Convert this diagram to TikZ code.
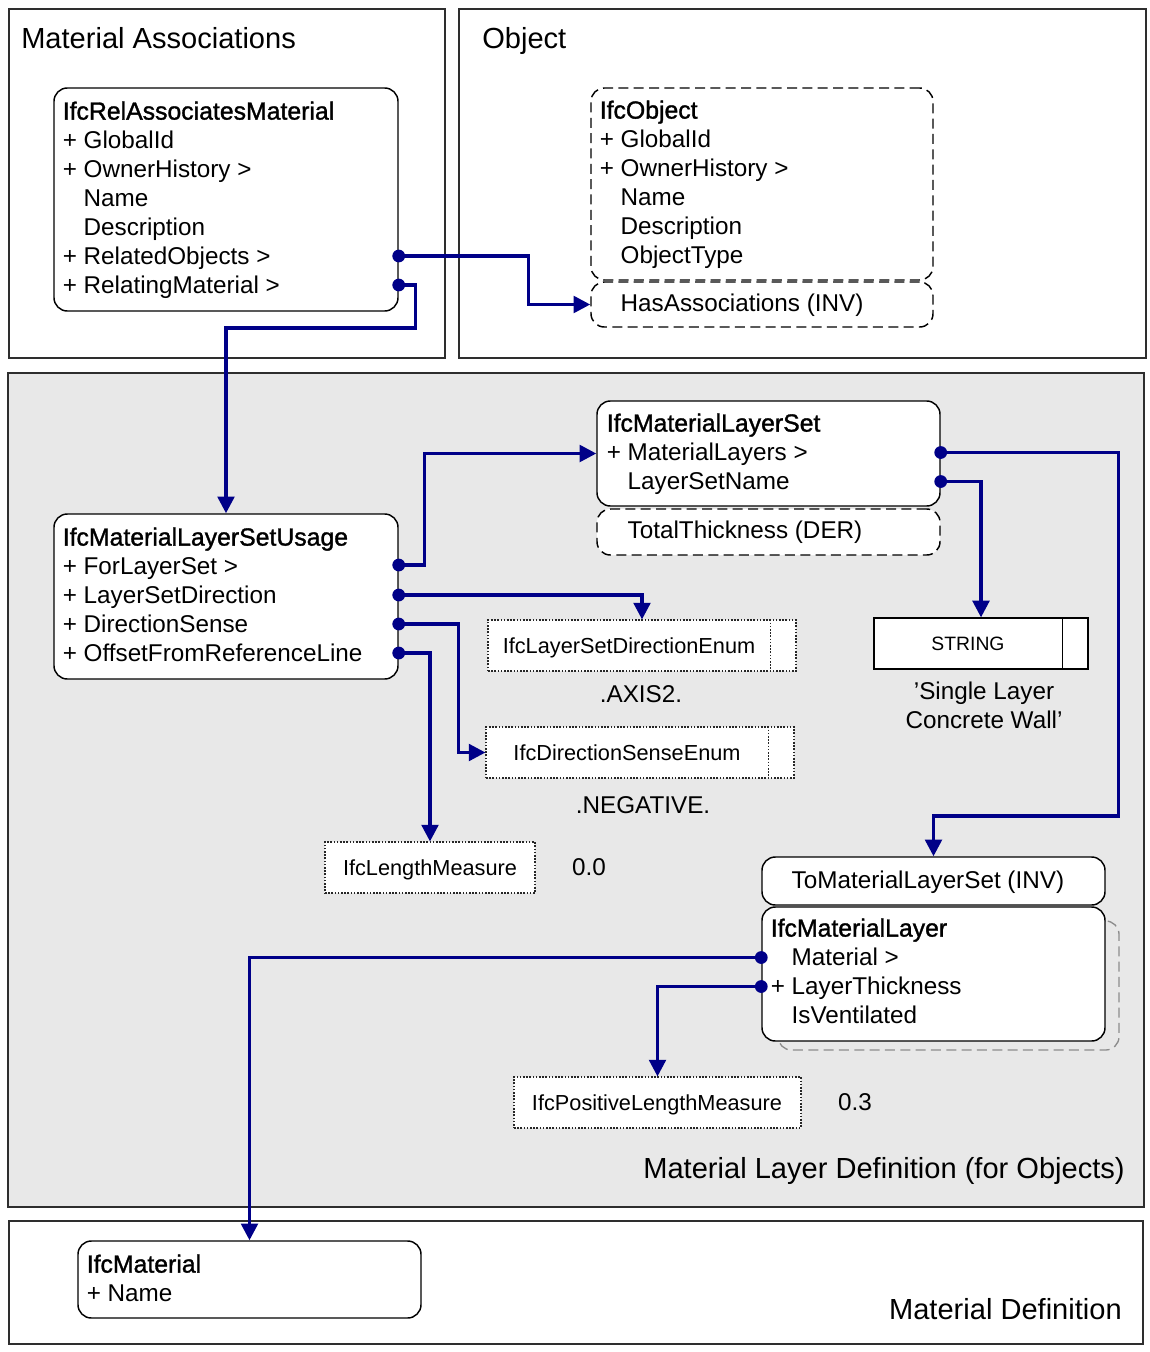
\documentclass[tikz,border=0pt]{standalone}
\usepackage{fontspec}
\setmainfont{Liberation Sans}
\newfontfamily\hdfontx{Liberation Sans}[FakeBold=1.3]
\newcommand\hdfont{\fontsize{18.6}{21.75}\selectfont\hdfontx}
\usetikzlibrary{arrows.meta,fit}
\definecolor{navyc}{HTML}{000088}
\definecolor{panelgray}{HTML}{E8E8E8}
\definecolor{framec}{HTML}{2E2E2E}
\newcommand\ind{\phantom{+}\ }
\newcommand\mainsz{\fontsize{18.2}{21.75}\selectfont}
\newcommand\smallsz{\fontsize{16.3}{19}\selectfont}
\newcommand\strsz{\fontsize{14.5}{17}\selectfont}
\newcommand\titlesz{\fontsize{21.8}{26}\selectfont}
\newcommand\lines[1]{\begin{tabular}[t]{@{}l@{}}#1\end{tabular}}
\renewcommand\arraystretch{1}
\begin{document}
\begin{tikzpicture}[x=0.75pt,y=-0.75pt,
  frame/.style={draw=framec, line width=1.5pt, inner sep=0pt},
  box/.style={draw=black, line width=1.1pt, rounded corners=10pt, fill=white, inner sep=0pt},
  dbox/.style={box, dash pattern=on 7.5pt off 4pt},
  tbox/.style={draw=black!85, line width=0.8pt, dash pattern=on 1.2pt off 1.2pt, fill=white, inner sep=0pt},
  sbox/.style={draw=black, line width=0.9pt, fill=white, inner sep=0pt},
  tdiv/.style={draw=black!85, line width=0.8pt, dash pattern=on 1.2pt off 1.2pt},
  conn/.style={draw=navyc, line width=2.5pt, -{Triangle[length=12.5pt,width=12.5pt]}},
  txt/.style={anchor=base west, inner sep=0pt, font=\mainsz},
  ttl/.style={inner sep=0pt, font=\titlesz},
  val/.style={anchor=base, inner sep=0pt, font=\mainsz},
  tyt/.style={anchor=base, inner sep=0pt, font=\smallsz},
]
\useasboundingbox (0,0) rectangle (1149,1352);
\fill[white] (0,0) rectangle (1149,1352);

% frames
\node[frame, fill=white, fit={(9,9) (445,358)}] (fassoc) {};
\node[frame, fill=white, fit={(459,9) (1146,358)}] (fobj) {};
\node[frame, fill=panelgray, fit={(8,373) (1144,1207)}] (fmld) {};
\node[frame, fill=white, fit={(9,1221) (1143,1344)}] (fmd) {};

\node[ttl, anchor=base west] (t-assoc) at (21,48.4) {Material Associations};
\node[ttl, anchor=base west] (t-obj) at (482,48.4) {Object};
\node[ttl, anchor=base east] (t-mld) at (1125,1178) {Material Layer Definition (for Objects)};
\node[ttl, anchor=base east] (t-md) at (1122,1319) {Material Definition};

% IfcRelAssociatesMaterial
\node[box, fit={(54,88) (398,311)}] (rel) {};
\node[txt] (rel-t) at (62.5,119.6) {\lines{{\hdfont IfcRelAssociatesMaterial}\\+ GlobalId\\+ OwnerHistory >\\\ind Name\\\ind Description\\+ RelatedObjects >\\+ RelatingMaterial >}};

% IfcObject
\node[dbox, fit={(591,88) (933,280)}] (obj) {};
\node[txt] (obj-t) at (599.5,118.6) {\lines{{\hdfont IfcObject}\\+ GlobalId\\+ OwnerHistory >\\\ind Name\\\ind Description\\\ind ObjectType}};
\node[dbox, fit={(591,282) (933,327)}] (has) {};
\node[txt] (has-t) at (599.5,311.6) {\ind HasAssociations (INV)};

% IfcMaterialLayerSet
\node[box, fit={(597,401) (940,506)}] (mls) {};
\node[txt] (mls-t) at (606.5,431.6) {\lines{{\hdfont IfcMaterialLayerSet}\\+ MaterialLayers >\\\ind LayerSetName}};
\node[dbox, fit={(597,509) (940,555)}] (tot) {};
\node[txt] (tot-t) at (606.5,538.6) {\ind TotalThickness (DER)};

% IfcMaterialLayerSetUsage
\node[box, fit={(54,514) (398,679)}] (usage) {};
\node[txt] (usage-t) at (62.5,545.6) {\lines{{\hdfont IfcMaterialLayerSetUsage}\\+ ForLayerSet >\\+ LayerSetDirection\\+ DirectionSense\\+ OffsetFromReferenceLine}};

% type boxes
\node[tbox, fit={(488,620) (796,671)}] (lsd) {};
\draw[tdiv] ([xshift=-19.5pt]lsd.north east) -- ([xshift=-19.5pt]lsd.south east);
\node[tyt] (lsd-t) at (629,653) {IfcLayerSetDirectionEnum};
\node[val] (v-axis) at (641,702.6) {.AXIS2.};

\node[tbox, fit={(486,727) (794,778)}] (dse) {};
\draw[tdiv] ([xshift=-19.5pt]dse.north east) -- ([xshift=-19.5pt]dse.south east);
\node[tyt] (dse-t) at (627,760) {IfcDirectionSenseEnum};
\node[val] (v-neg) at (643,813.6) {.NEGATIVE.};

\node[tbox, fit={(325,842) (535,893)}] (lm) {};
\node[tyt] (lm-t) at (430,875) {IfcLengthMeasure};
\node[val] (v-00) at (589,875.6) {0.0};

\node[sbox, fit={(874,618) (1088,669)}] (str) {};
\draw[black, line width=0.9pt] ([xshift=-19.5pt]str.north east) -- ([xshift=-19.5pt]str.south east);
\node[anchor=base, inner sep=0pt, font=\strsz] (str-t) at (968,650) {STRING};
\node[val] (v-str) at (984,699.6) {\begin{tabular}[t]{@{}c@{}}’Single Layer\\Concrete Wall’\end{tabular}};

% IfcMaterialLayer
\node[box, fit={(762,857) (1105,905)}] (tomls) {};
\node[txt] (tomls-t) at (770.5,888.6) {\ind ToMaterialLayerSet (INV)};
\node[draw=black!45, line width=1pt, rounded corners=10pt, dash pattern=on 7.5pt off 4pt, inner sep=0pt, fit={(778,921) (1119,1050)}] (mlsh) {};
\node[box, fit={(762,907) (1105,1041)}] (ml) {};
\node[txt] (ml-t) at (770.5,936.6) {\lines{{\hdfont IfcMaterialLayer}\\\ind Material >\\+ LayerThickness\\\ind IsVentilated}};

\node[tbox, fit={(514,1077) (801,1128)}] (plm) {};
\node[tyt] (plm-t) at (657,1110) {IfcPositiveLengthMeasure};
\node[val] (v-03) at (855,1110.6) {0.3};

% IfcMaterial
\node[box, fit={(78,1241) (421,1318)}] (mat) {};
\node[txt] (mat-t) at (86.5,1272.6) {\lines{{\hdfont IfcMaterial}\\+ Name}};

% ports
\coordinate (rel-ro) at (rel.east |- 0,256);
\coordinate (rel-rm) at (rel.east |- 0,285);
\coordinate (us-fls) at (usage.east |- 0,565);
\coordinate (us-lsd) at (usage.east |- 0,595);
\coordinate (us-ds) at (usage.east |- 0,624);
\coordinate (us-off) at (usage.east |- 0,653);
\coordinate (mls-ml) at (mls.east |- 0,452.5);
\coordinate (mls-lsn) at (mls.east |- 0,481.5);
\coordinate (ml-mat) at (ml.west |- 0,957.5);
\coordinate (ml-lt) at (ml.west |- 0,986.5);

% connectors
\draw[conn] (rel-ro) -- ++(130,0) |- (has.west);
\draw[conn] (rel-rm) -- ++(17,0) -- ++(0,43) -| (usage.north);
\draw[conn] (us-fls) -- ++(26,0) |- (mls.west);
\draw[conn] (us-lsd) -| (lsd.north);
\draw[conn] (us-ds) -- ++(60,0) |- (dse.west);
\draw[conn] (us-off) -| (lm.north);
\draw[conn] (mls-ml) -- ++(178,0) -- ++(0,363.5) -| (tomls.north);
\draw[conn] (mls-lsn) -| (str.north);
\draw[conn] (ml-mat) -| (mat.north);
\draw[conn] (ml-lt) -| (plm.north);

\foreach \p in {rel-ro,rel-rm,us-fls,us-lsd,us-ds,us-off,mls-ml,mls-lsn,ml-mat,ml-lt}
  \fill[navyc] (\p) circle[radius=4.8pt];
\end{tikzpicture}
\end{document}
